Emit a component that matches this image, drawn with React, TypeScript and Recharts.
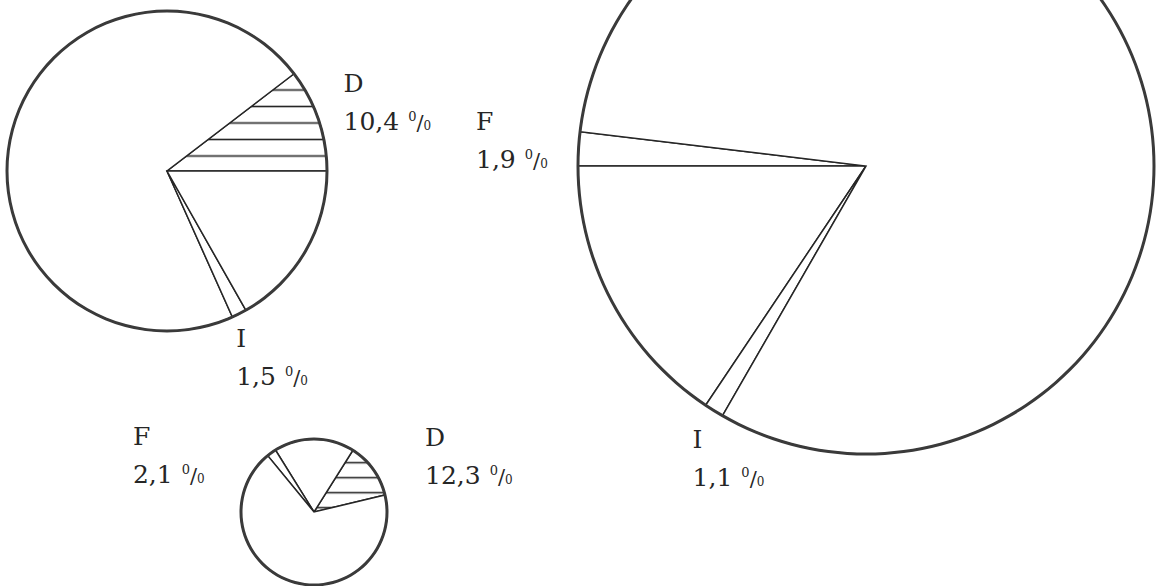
import React from 'react';
import { PieChart, Pie, Cell } from 'recharts';

const RAD = Math.PI / 180;

// upper-left circle
const leftNames = ['D', 'rest', 'I', 'rest'];
const leftValues = [10.4, 71.3, 1.5, 16.8];

// big circle on the right
const bigNames = ['F', 'rest', 'I', 'rest'];
const bigValues = [1.9, 15.6, 1.1, 81.4];

// small circle at the bottom
const smallNames = ['D', 'rest', 'F', 'rest'];
const smallValues = [12.3, 17.8, 2.1, 67.8];

const toRows = (names: string[], values: number[]) =>
  names.map((name, i) => ({ name, value: values[i] }));

const INK = '#262626';
const RIM = '#3a3a3a';
const FONT = "'DejaVu Serif', 'Liberation Serif', serif";
const LINE_GAP = 38;

interface PieLayout {
  id: string;
  rows: { name: string; value: number }[];
  cx: number;
  cy: number;
  r: number;
  start: number;
  // label offset from the rim point at the slice's mid angle
  offsets: Record<string, [number, number]>;
}

const pies: PieLayout[] = [
  {
    id: 'left',
    rows: toRows(leftNames, leftValues),
    cx: 167,
    cy: 171,
    r: 160,
    start: 0,
    offsets: { D: [25, -28], I: [-3, 33] },
  },
  {
    id: 'big',
    rows: toRows(bigNames, bigValues),
    cx: 866,
    cy: 166,
    r: 288,
    start: 173.16,
    offsets: { F: [-102.5, -18.8], I: [-21.4, 37.8] },
  },
  {
    id: 'small',
    rows: toRows(smallNames, smallValues),
    cx: 314,
    cy: 512,
    r: 73,
    start: 13.5,
    offsets: { D: [51.7, -23.4], F: [-138.5, -7.6] },
  },
];

const makeLabel = (offsets: Record<string, [number, number]>) => (props: any) => {
  const { cx, cy, midAngle, outerRadius, name, value } = props;
  const off = offsets[name];
  if (!off) return null;
  const x = cx + outerRadius * Math.cos(-midAngle * RAD) + off[0];
  const y = cy + outerRadius * Math.sin(-midAngle * RAD) + off[1];
  return (
    <text fill={INK} fontFamily={FONT} fontSize={25} stroke="none">
      <tspan x={x} y={y}>{name}</tspan>
      <tspan x={x} y={y + LINE_GAP}>{String(value).replace('.', ',')}</tspan>
      {/* old-style per cent: raised 0, slash, low 0 */}
      <tspan dx={9} dy={-9} fontSize={13}>0</tspan>
      <tspan dx={0} dy={9} fontSize={21}>/</tspan>
      <tspan dx={0} fontSize={12}>0</tspan>
    </text>
  );
};

const App: React.FC = () => {
  return (
    <div
      style={{
        position: 'absolute',
        left: 0,
        top: 0,
        width: 1159,
        height: 586,
        background: '#fff',
        overflow: 'hidden',
      }}
    >
      <PieChart width={1159} height={586} margin={{ top: 0, right: 0, bottom: 0, left: 0 }}>
        <defs>
          <pattern id="hatch-left" patternUnits="userSpaceOnUse" width={10} height={16.5} y={-0.75}>
            <rect width={10} height={16.5} fill="#fff" />
            <line x1={0} x2={10} y1={8.25} y2={8.25} stroke={INK} strokeWidth={1.6} />
          </pattern>
          <pattern id="hatch-small" patternUnits="userSpaceOnUse" width={10} height={15} y={5.2}>
            <rect width={10} height={15} fill="#fff" />
            <line x1={0} x2={10} y1={7.5} y2={7.5} stroke={INK} strokeWidth={1.6} />
          </pattern>
        </defs>

        {pies.map((p) => (
          <Pie
            key={p.id}
            data={p.rows}
            dataKey="value"
            nameKey="name"
            cx={p.cx}
            cy={p.cy}
            innerRadius={0}
            outerRadius={p.r}
            startAngle={p.start}
            endAngle={p.start + 360}
            stroke={INK}
            strokeWidth={1.5}
            label={makeLabel(p.offsets)}
            labelLine={false}
            isAnimationActive={false}
          >
            {p.rows.map((row, i) => (
              <Cell
                key={i}
                fill={row.name === 'D' ? `url(#hatch-${p.id})` : '#fff'}
              />
            ))}
          </Pie>
        ))}

        {/* heavier rim drawn over the slice outlines */}
        {pies.map((p) => (
          <Pie
            key={`${p.id}-rim`}
            data={[{ name: 'rim', value: 1 }]}
            dataKey="value"
            cx={p.cx}
            cy={p.cy}
            innerRadius={p.r - 1.5}
            outerRadius={p.r + 1.5}
            startAngle={0}
            endAngle={360}
            fill={RIM}
            stroke="none"
            isAnimationActive={false}
          />
        ))}
      </PieChart>
    </div>
  );
};

export default App;
